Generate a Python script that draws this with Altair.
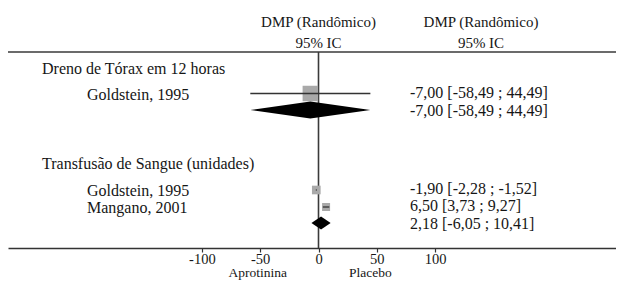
import altair as alt
import pandas as pd

# ---- data ----
group_names = ["Dreno de Tórax em 12 horas", "Transfusão de Sangue (unidades)"]
study_names = ["Goldstein, 1995", "Goldstein, 1995", "Mangano, 2001"]
study_group = [0, 1, 1]
study_est = [-7.00, -1.90, 6.50]
study_lo = [-58.49, -2.28, 3.73]
study_hi = [44.49, -1.52, 9.27]
study_weight = [100.0, 51.6, 48.4]
summary_est = [-7.00, 2.18]
summary_lo = [-58.49, -6.05]
summary_hi = [44.49, 10.41]
tick_values = [-100, -50, 0, 50, 100]
header_lines = ["DMP (Randômico)", "95% IC"]
side_labels = ["Aprotinina", "Placebo"]

# ---- layout (rows in pixel-like units from the top rule) ----
PLOT_H = 196
GROUP_ROW = [17, 112]
STUDY_ROW = [41.5, 138, 155]
SUMMARY_ROW = [58, 171]
HEADER_ROW = [-30, -9]
SIDE_ROW = 221
DIAMOND_HALF = [8.5, 6.5]

FONT = "Liberation Serif"
INK = "#161616"


def fmt(v):
    return f"{v:.2f}".replace(".", ",")


def ci_text(e, l, h):
    return f"{fmt(e)} [{fmt(l)} ; {fmt(h)}]"


studies = pd.DataFrame({
    "name": study_names,
    "row": STUDY_ROW,
    "est": study_est,
    "lo": study_lo,
    "hi": study_hi,
    "weight": study_weight,
    "ci": [ci_text(e, l, h) for e, l, h in zip(study_est, study_lo, study_hi)],
})

summ = pd.DataFrame({
    "row": SUMMARY_ROW,
    "ci": [ci_text(e, l, h) for e, l, h in zip(summary_est, summary_lo, summary_hi)],
})

dia_rows = []
for i, (e, l, h) in enumerate(zip(summary_est, summary_lo, summary_hi)):
    r = SUMMARY_ROW[i]
    d = DIAMOND_HALF[i]
    dia_rows += [
        {"id": i, "x": l, "y": r, "y2": r},
        {"id": i, "x": e, "y": r - d, "y2": r + d},
        {"id": i, "x": h, "y": r, "y2": r},
    ]
diamonds = pd.DataFrame(dia_rows)

groups = pd.DataFrame({"name": group_names, "row": GROUP_ROW})
headers = pd.DataFrame({"t": header_lines, "row": HEADER_ROW})
sides = pd.DataFrame({"t": side_labels, "row": [SIDE_ROW, SIDE_ROW], "x": [-52, 44.5]})

W = 608
ZERO_PX = 310.5
PX_PER_UNIT = 1.166
xscale = alt.Scale(domain=[-ZERO_PX / PX_PER_UNIT, (W - ZERO_PX) / PX_PER_UNIT],
                   nice=False, zero=False)
yscale = alt.Scale(domain=[0, PLOT_H], reverse=True, nice=False, zero=False)

X_axis = alt.Axis(values=tick_values, labelExpr="'' + datum.value", tickSize=4,
                  labelFont=FONT, labelFontSize=14.5, labelColor=INK, labelPadding=0,
                  domainColor="#333333", domainWidth=1.5, tickColor="#333333",
                  tickWidth=1.2, grid=False, title=None)

base_axis = alt.Chart(pd.DataFrame({"v": [0]})).mark_rule(
    color="#3a3a3a", strokeWidth=1.6
).encode(
    x=alt.X("v:Q", scale=xscale, axis=X_axis),
)

top_rule = alt.Chart(pd.DataFrame({"r": [0]})).mark_rule(
    color="#3a3a3a", strokeWidth=1.6
).encode(y=alt.Y("r:Q", scale=yscale, axis=None))

squares = alt.Chart(studies).mark_square(color="#a9a9a9", opacity=1).encode(
    x=alt.X("est:Q", scale=xscale),
    y=alt.Y("row:Q", scale=yscale, axis=None),
    size=alt.Size("weight:Q", scale=alt.Scale(domain=[48.4, 100], range=[64, 240], zero=False),
                  legend=None),
)

ci_lines = alt.Chart(studies).mark_rule(color="#333333", strokeWidth=1.3).encode(
    x=alt.X("lo:Q", scale=xscale),
    x2="hi:Q",
    y=alt.Y("row:Q", scale=yscale, axis=None),
)

dia = alt.Chart(diamonds).mark_area(color="#000000", opacity=1, interpolate="linear").encode(
    x=alt.X("x:Q", scale=xscale),
    y=alt.Y("y:Q", scale=yscale, axis=None),
    y2="y2:Q",
    detail="id:N",
)

group_txt = alt.Chart(groups).mark_text(
    align="left", baseline="middle", font=FONT, fontSize=16, color=INK
).encode(x=alt.value(34), y=alt.Y("row:Q", scale=yscale, axis=None), text="name:N")

study_txt = alt.Chart(studies).mark_text(
    align="left", baseline="middle", font=FONT, fontSize=16, color=INK, dy=1
).encode(x=alt.value(79), y=alt.Y("row:Q", scale=yscale, axis=None), text="name:N")

study_ci = alt.Chart(studies).mark_text(
    align="left", baseline="middle", font=FONT, fontSize=16, color=INK, dy=-1
).encode(x=alt.value(402), y=alt.Y("row:Q", scale=yscale, axis=None), text="ci:N")

summ_ci = alt.Chart(summ).mark_text(
    align="left", baseline="middle", font=FONT, fontSize=16, color=INK, dy=1
).encode(x=alt.value(402), y=alt.Y("row:Q", scale=yscale, axis=None), text="ci:N")

head1 = alt.Chart(headers).mark_text(
    align="center", baseline="middle", font=FONT, fontSize=15, color=INK
).encode(x=alt.value(310.5), y=alt.Y("row:Q", scale=yscale, axis=None), text="t:N")

head2 = alt.Chart(headers).mark_text(
    align="center", baseline="middle", font=FONT, fontSize=15, color=INK
).encode(x=alt.value(473), y=alt.Y("row:Q", scale=yscale, axis=None), text="t:N")

side_txt = alt.Chart(sides).mark_text(
    align="center", baseline="middle", font=FONT, fontSize=13.5, color=INK
).encode(x=alt.X("x:Q", scale=xscale), y=alt.Y("row:Q", scale=yscale, axis=None), text="t:N")

chart = alt.layer(
    base_axis, top_rule, squares, ci_lines, dia,
    group_txt, study_txt, study_ci, summ_ci, head1, head2, side_txt
).properties(
    width=W, height=PLOT_H,
    autosize=alt.AutoSizeParams(type="none"),
    padding={"left": 0, "top": 44, "right": 0, "bottom": 33},
    background="white",
).configure_view(stroke=None)

chart.save("out.html", embed_options={"renderer": "svg", "actions": False})
